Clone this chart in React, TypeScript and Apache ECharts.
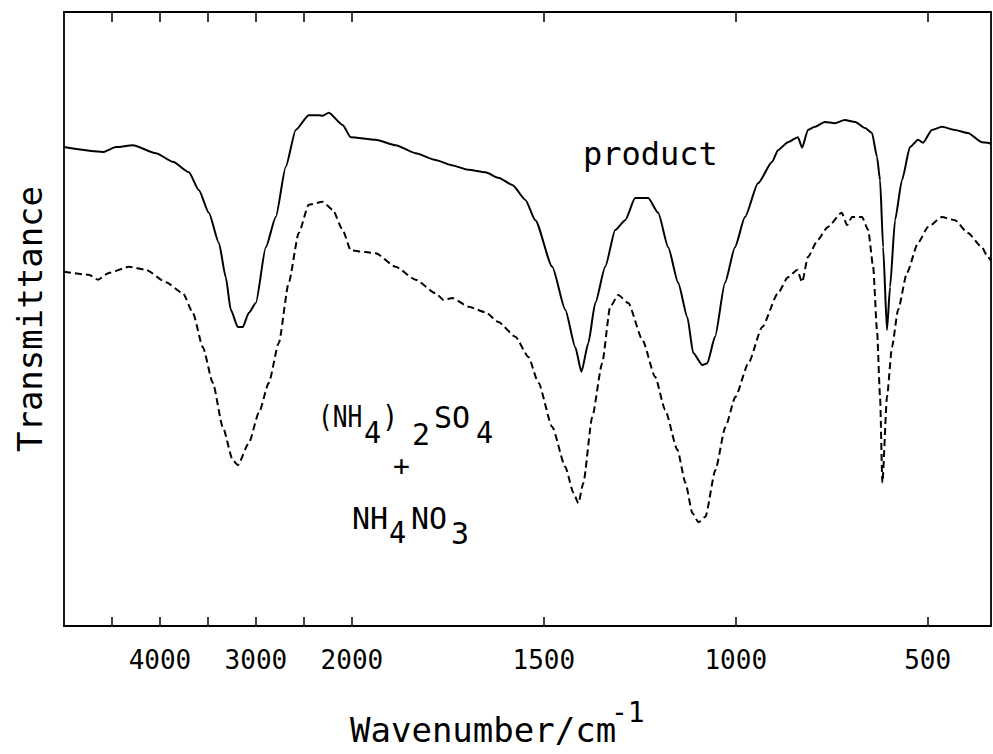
import React, { useEffect, useRef } from "react";
import * as echarts from "echarts";

// Wavenumber (cm-1) and transmittance (arbitrary %)
const productWavenumber = [
  5000, 4594, 4459, 4282, 4042, 3865, 3699, 3595, 3491, 3386, 3314, 3262, 3189, 3137, 3074, 3001,
  2897, 2793, 2689, 2585, 2450, 2345, 2304, 2241, 2096, 2012, 1938, 1886, 1834, 1782, 1743, 1696,
  1652, 1618, 1581, 1548, 1522, 1478, 1444, 1418, 1402, 1384, 1366, 1340, 1314, 1288, 1262, 1228,
  1202, 1176, 1150, 1126, 1111, 1087, 1074, 1054, 1028, 1002, 976, 942, 905, 890, 864, 838, 827,
  812, 794, 768, 742, 716, 689, 663, 645, 632, 624, 616, 606, 598, 585, 567, 546, 525, 512, 489,
  463, 429, 395, 359, 343, 335,
];
const productT = [
  78.0, 77.2, 78.0, 78.3, 77.0, 75.6, 73.9, 71.0, 67.3, 62.4, 56.8, 51.5, 48.7, 48.7, 51.0, 52.6,
  61.7, 66.6, 74.8, 80.8, 83.2, 83.2, 83.1, 83.6, 81.6, 79.6, 79.2, 78.3, 77.0, 75.9, 75.1, 74.3,
  73.9, 73.0, 71.8, 69.4, 66.1, 58.5, 51.5, 45.4, 41.4, 46.1, 52.6, 58.5, 64.5, 66.1, 69.7, 69.7,
  67.3, 61.7, 55.9, 50.3, 44.5, 42.5, 42.8, 47.1, 55.9, 61.7, 66.6, 72.1, 75.6, 77.5, 78.8, 79.6, 77.9,
  80.8, 81.3, 82.1, 81.9, 82.4, 82.1, 81.1, 80.3, 76.4, 72.6, 61.7, 48.2, 55.2, 66.1, 72.6, 78.0, 79.2, 78.7, 80.8,
  81.3, 80.8, 80.3, 78.8, 78.7, 78.5,
];

const mixtureWavenumber = [
  5000, 4740, 4646, 4532, 4323, 4146, 3938, 3761, 3657, 3553, 3449, 3345, 3241, 3189, 3074, 2970,
  2866, 2762, 2658, 2554, 2450, 2304, 2200, 2096, 2012, 1964, 1938, 1886, 1834, 1782, 1761, 1738,
  1696, 1652, 1618, 1574, 1540, 1514, 1478, 1444, 1423, 1410, 1397, 1374, 1348, 1327, 1306, 1280,
  1243, 1210, 1184, 1152, 1131, 1113, 1097, 1079, 1053, 1027, 1001, 967, 931, 890, 864, 840, 827,
  812, 786, 760, 724, 710, 697, 671, 655, 642, 632, 624, 618, 606, 593, 577, 554, 525, 499, 463,
  429, 395, 359, 343, 335,
];
const mixtureT = [
  57.7, 57.2, 56.4, 57.5, 58.5, 58.0, 56.0, 54.2, 51.0, 45.4, 39.6, 32.4, 27.0, 26.2, 29.8, 34.7,
  39.6, 46.1, 55.9, 64.0, 68.6, 69.1, 67.8, 64.5, 61.2, 60.9, 60.7, 58.5, 56.4, 54.2, 53.1, 53.4,
  52.0, 51.1, 49.5, 47.1, 43.8, 39.6, 32.4, 25.9, 21.7, 20.0, 23.3, 34.0, 42.8, 52.0, 53.9, 52.6,
  46.6, 40.6, 35.2, 28.7, 23.3, 18.4, 16.9, 17.8, 25.4, 32.4, 37.3, 42.8, 48.7, 54.2, 56.8, 58.0, 56.0,
  60.1, 62.9, 65.0, 67.3, 65.3, 66.6, 66.6, 64.5, 58.5, 48.2, 37.3, 23.3, 37.3, 45.4, 51.5, 57.5, 62.4, 65.0, 66.6,
  66.1, 64.0, 61.7, 60.1, 59.5,
];

const tickWavenumbers = [4500, 4000, 3500, 3000, 2500, 2000, 1500, 1000, 500];
const labelWavenumbers = [4000, 3000, 2000, 1500, 1000, 500];

const X_MIN = 335;
const X_MAX = 5000;
const BREAK = 2000;
const COMPRESS = 4; // scale above 2000 cm-1 is compressed 4x

const toU = (w: number) => (w <= BREAK ? w : BREAK + (w - BREAK) / COMPRESS);
const fromU = (u: number) => (u <= BREAK ? u : BREAK + (u - BREAK) * COMPRESS);

const FONT = "DejaVu Sans Mono";

export default function App() {
  const ref = useRef<HTMLDivElement>(null);

  useEffect(() => {
    if (!ref.current) return;
    const chart = echarts.init(ref.current, null, { renderer: "svg" });

    const productData = productWavenumber.map((w, i) => [toU(w), productT[i]]);
    const mixtureData = mixtureWavenumber.map((w, i) => [toU(w), mixtureT[i]]);
    const tickU = tickWavenumbers.map(toU);
    const labelU = labelWavenumbers.map(toU);

    const axisLine = { show: true, onZero: false, lineStyle: { color: "#000", width: 1.8 } };

    const txt = (text: string, x: number, y: number, size: number, scaleX = 1) => ({
      type: "text",
      x,
      y,
      scaleX,
      silent: true,
      style: {
        text,
        fill: "#000",
        font: `${size}px "${FONT}"`,
        textAlign: "left",
        textVerticalAlign: "middle",
      },
    });

    chart.setOption({
      animation: false,
      backgroundColor: "#fff",
      grid: { left: 64, right: 2, top: 12, bottom: 128, containLabel: false },
      xAxis: [
        {
          type: "value",
          position: "bottom",
          min: toU(X_MIN),
          max: toU(X_MAX),
          inverse: true,
          axisLine,
          splitLine: { show: false },
          axisTick: {
            show: true,
            inside: true,
            length: 9,
            customValues: tickU,
            lineStyle: { color: "#000", width: 1.5 },
          },
          axisLabel: {
            show: true,
            customValues: labelU,
            margin: 21,
            fontFamily: FONT,
            fontSize: 26,
            color: "#000",
            formatter: (v: number) => String(Math.round(fromU(v))),
          },
        },
        {
          type: "value",
          position: "top",
          min: toU(X_MIN),
          max: toU(X_MAX),
          inverse: true,
          axisLine,
          splitLine: { show: false },
          axisTick: {
            show: true,
            inside: true,
            length: 10,
            customValues: tickU,
            lineStyle: { color: "#000", width: 1.5 },
          },
          axisLabel: { show: false },
        },
      ],
      yAxis: [
        {
          type: "value",
          position: "left",
          min: 0,
          max: 100,
          name: "Transmittance",
          nameLocation: "middle",
          nameGap: 17,
          nameTextStyle: { fontFamily: FONT, fontSize: 34, color: "#000" },
          axisLine,
          axisTick: { show: false },
          axisLabel: { show: false },
          splitLine: { show: false },
        },
        {
          type: "value",
          position: "right",
          min: 0,
          max: 100,
          axisLine,
          axisTick: { show: false },
          axisLabel: { show: false },
          splitLine: { show: false },
        },
      ],
      series: [
        {
          name: "product",
          type: "line",
          data: productData,
          showSymbol: false,
          symbol: "none",
          smooth: 0.2,
          smoothMonotone: "x",
          lineStyle: { color: "#000", width: 2, type: "solid" },
        },
        {
          name: "(NH4)2SO4 + NH4NO3",
          type: "line",
          data: mixtureData,
          showSymbol: false,
          symbol: "none",
          smooth: 0.2,
          smoothMonotone: "x",
          lineStyle: { color: "#000", width: 2, type: [7, 4] },
        },
      ],
      graphic: [
        txt("product", 583, 154, 32),
        // (NH4)2SO4
        txt("(NH", 318, 417, 30, 0.82),
        txt("4", 364, 433, 30, 0.95),
        txt(")", 382, 417, 30, 0.9),
        txt("2", 412, 434, 30),
        txt("SO", 434, 417, 30),
        txt("4", 476, 433, 30, 0.95),
        txt("+", 393, 466, 28),
        // NH4NO3
        txt("NH", 352, 518, 30),
        txt("4", 389, 533, 30, 0.95),
        txt("NO", 411, 518, 30),
        txt("3", 451, 533, 30),
        // axis title
        txt("Wavenumber/cm", 350, 730, 34),
        txt("-1", 611, 712, 28),
      ],
    });

    return () => chart.dispose();
  }, []);

  return (
    <div
      ref={ref}
      style={{ position: "absolute", left: 0, top: 0, width: 993, height: 754, background: "#fff" }}
    />
  );
}
